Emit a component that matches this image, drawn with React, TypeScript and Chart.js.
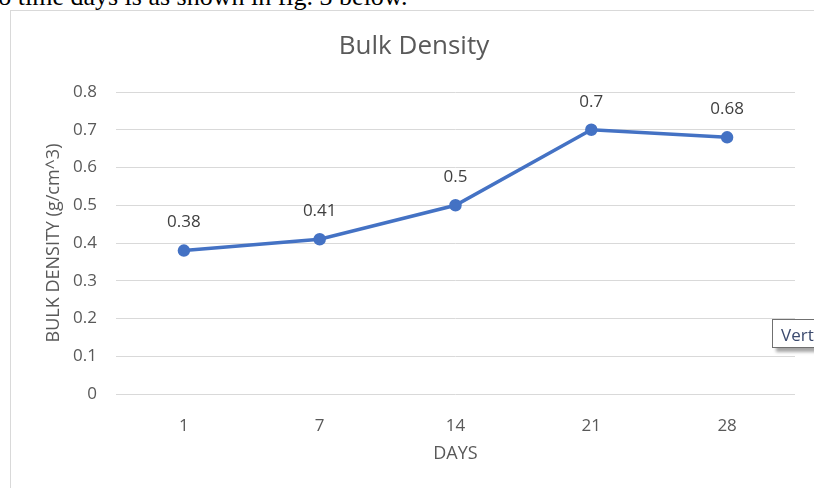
import { useEffect, useRef } from "react";
import { Chart, registerables } from "chart.js";

Chart.register(...registerables);

// ---- data ----
const days: string[] = ["1", "7", "14", "21", "28"];
const bulkDensity: number[] = [0.38, 0.41, 0.5, 0.7, 0.68];
const yMin = 0;
const yMax = 0.8;
const yStep = 0.1;
const chartTitle = "Bulk Density";
const xAxisTitle = "DAYS";
const yAxisTitle = "BULK DENSITY (g/cm^3)";
const leadText = "to time days is as shown in fig. 3 below.";

const FONT = "'Open Sans', sans-serif";
const LINE_COLOR = "#4472C4";

export default function App() {
  const ref = useRef<HTMLCanvasElement>(null);

  useEffect(() => {
    if (!ref.current) return;
    const extras = {
      id: "extras",
      afterDatasetsDraw(chart: any) {
        const ctx = chart.ctx;
        const meta = chart.getDatasetMeta(0);
        ctx.save();
        ctx.font = `17px ${FONT}`;
        ctx.fillStyle = "#404040";
        ctx.textAlign = "center";
        ctx.textBaseline = "middle";
        meta.data.forEach((pt: any, i: number) => {
          ctx.fillText(String(bulkDensity[i]), pt.x, pt.y - 28);
        });
        ctx.font = `26px ${FONT}`;
        ctx.fillStyle = "#595959";
        ctx.fillText(chartTitle, 414, 47);
        ctx.restore();
      },
    };

    const chart = new Chart(ref.current, {
      type: "line",
      data: {
        labels: days,
        datasets: [
          {
            data: bulkDensity,
            borderColor: LINE_COLOR,
            backgroundColor: LINE_COLOR,
            borderWidth: 3.5,
            pointRadius: 4.5,
            pointBackgroundColor: LINE_COLOR,
            pointBorderColor: LINE_COLOR,
            tension: 0,
          },
        ],
      },
      plugins: [extras],
      options: {
        responsive: false,
        animation: false,
        devicePixelRatio: 1,
        layout: { padding: { left: 0, top: 92, right: 19, bottom: 0 } },
        plugins: {
          legend: { display: false },
          title: { display: false },
          tooltip: { enabled: false },
        },
        scales: {
          x: {
            type: "category",
            offset: true,
            grid: { display: false },
            border: { display: false },
            ticks: {
              color: "#595959",
              font: { family: FONT, size: 17 },
              padding: 14,
            },
            title: {
              display: true,
              text: xAxisTitle,
              color: "#595959",
              font: { family: FONT, size: 18 },
              padding: { top: 0, bottom: 23 },
            },
            afterFit(scale: any) {
              scale.height = 94;
            },
          },
          y: {
            min: yMin,
            max: yMax,
            grid: { color: "#d9d9d9", lineWidth: 1, drawTicks: false },
            border: { display: false },
            ticks: {
              stepSize: yStep,
              color: "#595959",
              font: { family: FONT, size: 17 },
              padding: 19,
              callback: (v: any) => String(Math.round(Number(v) * 10) / 10),
            },
            title: {
              display: true,
              text: yAxisTitle,
              color: "#595959",
              font: { family: FONT, size: 18 },
              padding: { top: 43, bottom: 0 },
            },
            afterFit(scale: any) {
              scale.width = 116;
            },
          },
        },
      },
    });
    return () => chart.destroy();
  }, []);

  return (
    <div
      style={{
        position: "fixed",
        left: 0,
        top: 0,
        width: 814,
        height: 488,
        overflow: "hidden",
        background: "#fff",
      }}
    >
      <div
        style={{
          position: "absolute",
          left: -9,
          top: -16,
          fontFamily: "'Liberation Serif', 'Times New Roman', serif",
          fontSize: 26,
          lineHeight: "26px",
          whiteSpace: "nowrap",
          color: "#000",
        }}
      >
        {leadText}
      </div>
      <div
        style={{
          position: "absolute",
          left: 10,
          top: 10,
          width: 820,
          height: 500,
          border: "1px solid #d9d9d9",
        }}
      />
      <canvas
        ref={ref}
        width={814}
        height={488}
        style={{ position: "absolute", left: 0, top: 0, width: 814, height: 488 }}
      />
      <div
        style={{
          position: "absolute",
          left: 772,
          top: 319,
          width: 60,
          height: 29,
          border: "1px solid #707070",
          background: "#fff",
          boxShadow: "4px 4px 3px rgba(0,0,0,0.35)",
          fontFamily: FONT,
          fontSize: 17,
          lineHeight: "29px",
          paddingLeft: 8,
          color: "#3b4a6e",
          boxSizing: "border-box",
        }}
      >
        Vert
      </div>
    </div>
  );
}
